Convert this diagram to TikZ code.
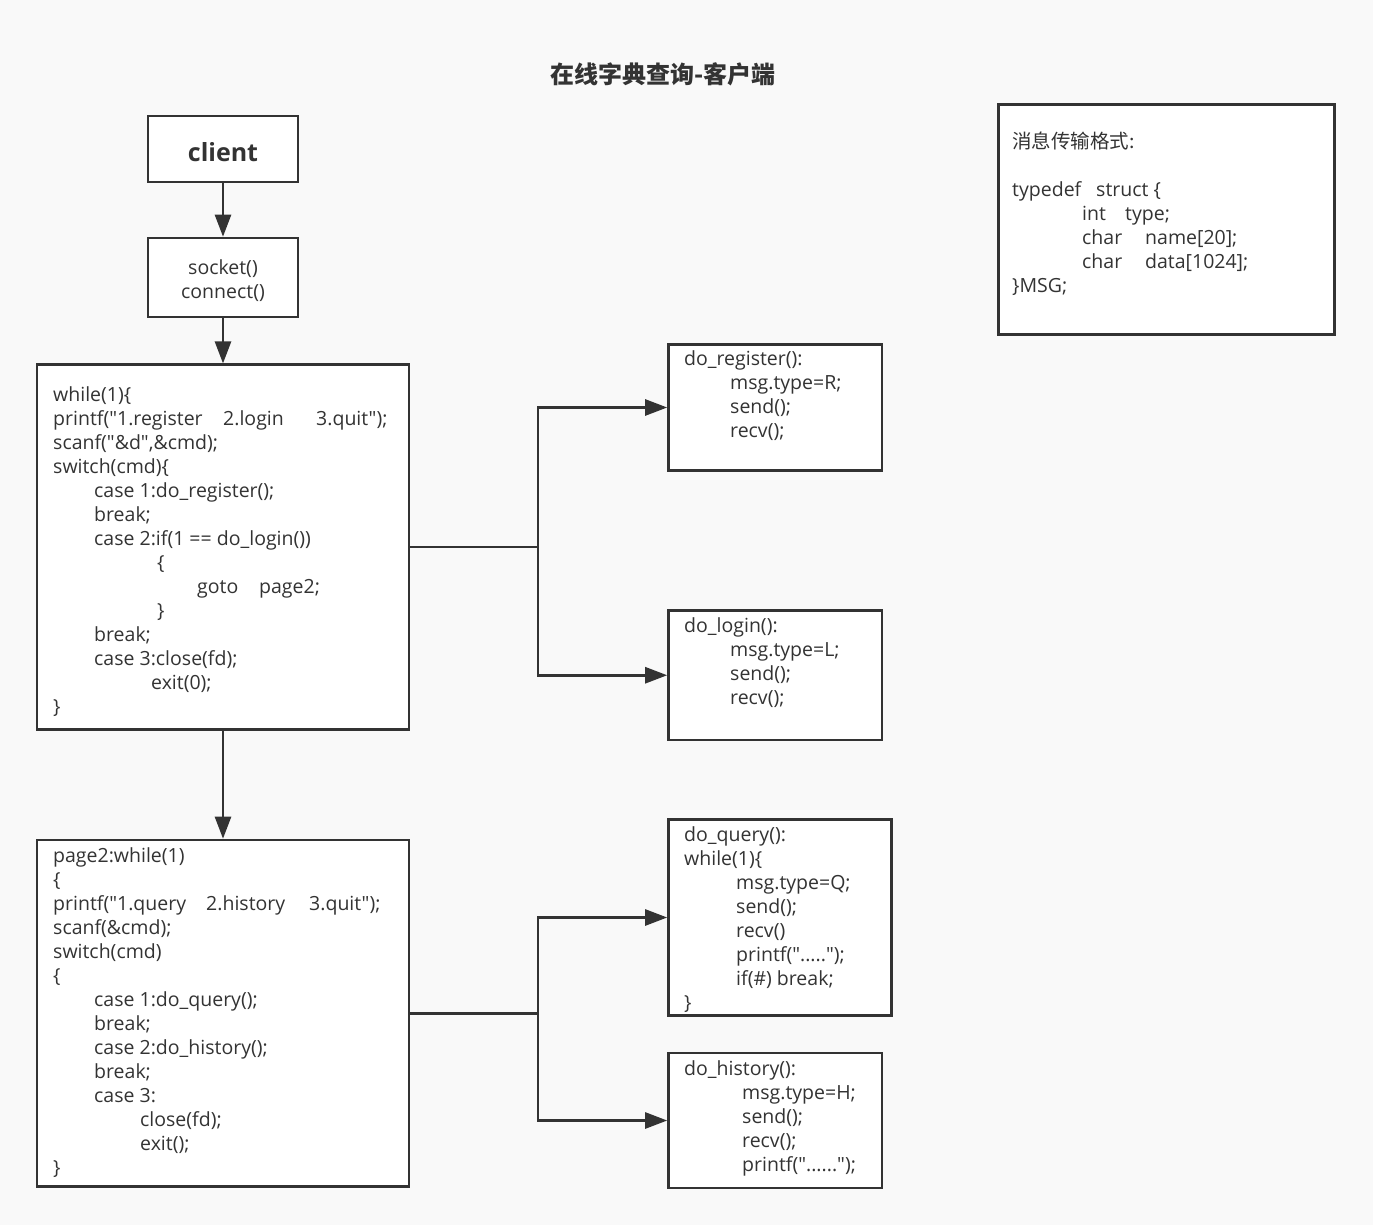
\documentclass[tikz,border=0pt]{standalone}
\usepackage{fontspec}
\setmainfont{Open Sans}[Ligatures=TeXOff]
\newfontfamily\cjk{Noto Sans CJK SC}
\usetikzlibrary{arrows.meta}
\definecolor{ink}{HTML}{333333}
\definecolor{bg}{HTML}{F9F9F9}
\newcommand\tx[2]{\rlap{\hspace*{#1pt}#2}}
\newcommand\codefont{\fontsize{19.5}{24}\selectfont}
\begin{document}
\begin{tikzpicture}[x=1pt,y=-1pt,
  every node/.append style={text=ink},
  box/.style={draw=ink,line width=2.6pt,fill=white,rectangle,inner sep=0pt},
  code/.style={anchor=base west,inner sep=0pt,font=\codefont},
  conn/.style={draw=ink,line width=2.6pt},
  arr/.style={conn,-{Triangle[length=22pt,width=16pt]}}]
\useasboundingbox[fill=bg] (0,0) rectangle (1373,1225);

\node[font=\cjk\bfseries\fontsize{24}{30}\selectfont] (title) at (663,74) {在线字典查询-客户端};

\node[box,minimum width=150pt,minimum height=66pt] (client) at (223,149) {};
\node[font=\bfseries\fontsize{25}{30}\selectfont] (clientt) at (223,152) {client};
\node[box,minimum width=150pt,minimum height=79pt] (sock) at (223,277.5) {};
\node[align=center,font=\codefont] (sockt) at (223,280.5) {socket()\\connect()};

\node[box,minimum width=372pt,minimum height=364.5pt] (loop1) at (223,547) {};
\node[code] (loop1t) at (53,401) {\begin{tabular}[t]{@{}l@{}}
while(1)\{\\
\tx{0}{printf("1.register}\tx{170}{2.login}\tx{263}{3.quit");}\\
scanf("\&d",\&cmd);\\
switch(cmd)\{\\
\tx{41}{case 1:do\_register();}\\
\tx{41}{break;}\\
\tx{41}{case 2:if(1 == do\_login())}\\
\tx{104}{\{}\\
\tx{144}{goto}\tx{206}{page2;}\\
\tx{104}{\}}\\
\tx{41}{break;}\\
\tx{41}{case 3:close(fd);}\\
\tx{98}{exit(0);}\\
\}
\end{tabular}};

\node[box,minimum width=372pt,minimum height=346.5pt] (loop2) at (223,1013.25) {};
\node[code] (loop2t) at (53,862) {\begin{tabular}[t]{@{}l@{}}
page2:while(1)\\
\{\\
\tx{0}{printf("1.query}\tx{153}{2.history}\tx{256}{3.quit");}\\
scanf(\&cmd);\\
switch(cmd)\\
\{\\
\tx{41}{case 1:do\_query();}\\
\tx{41}{break;}\\
\tx{41}{case 2:do\_history();}\\
\tx{41}{break;}\\
\tx{41}{case 3:}\\
\tx{87}{close(fd);}\\
\tx{87}{exit();}\\
\}
\end{tabular}};

\node[box,minimum width=213.5pt,minimum height=126pt] (reg) at (775.25,407.5) {};
\node[code] (regt) at (684,365) {\begin{tabular}[t]{@{}l@{}}
do\_register():\\
\tx{46}{msg.type=R;}\\
\tx{46}{send();}\\
\tx{46}{recv();}
\end{tabular}};

\node[box,minimum width=213.5pt,minimum height=129.5pt] (login) at (775.25,675.25) {};
\node[code] (logint) at (684,632) {\begin{tabular}[t]{@{}l@{}}
do\_login():\\
\tx{46}{msg.type=L;}\\
\tx{46}{send();}\\
\tx{46}{recv();}
\end{tabular}};

\node[box,minimum width=223pt,minimum height=196pt] (query) at (780,917.5) {};
\node[code] (queryt) at (684,841) {\begin{tabular}[t]{@{}l@{}}
do\_query():\\
while(1)\{\\
\tx{52}{msg.type=Q;}\\
\tx{52}{send();}\\
\tx{52}{recv()}\\
\tx{52}{printf(".....");}\\
\tx{52}{if(\#) break;}\\
\}
\end{tabular}};

\node[box,minimum width=213.5pt,minimum height=135pt] (hist) at (775.25,1120.5) {};
\node[code] (histt) at (684,1075) {\begin{tabular}[t]{@{}l@{}}
do\_history():\\
\tx{58}{msg.type=H;}\\
\tx{58}{send();}\\
\tx{58}{recv();}\\
\tx{58}{printf("......");}
\end{tabular}};

\node[box,minimum width=336pt,minimum height=230pt] (msg) at (1166.5,219.5) {};
\node[code] (msgt) at (1012,149) {\begin{tabular}[t]{@{}l@{}}
{\cjk 消息传输格式:}\\
\\
\tx{0}{typedef}\tx{84}{struct \{}\\
\tx{70}{int}\tx{113}{type;}\\
\tx{70}{char}\tx{133}{name[20];}\\
\tx{70}{char}\tx{133}{data[1024];}\\
\}MSG;
\end{tabular}};

\coordinate (j1) at (538,547);
\coordinate (j2) at (538,1013.25);

\draw[arr] (client.south) -- (sock.north);
\draw[arr] (sock.south) -- (loop1.north);
\draw[arr] (loop1.south) -- (loop2.north);
\draw[conn] (loop1.east) -- (j1);
\draw[arr] (j1) |- (reg.west);
\draw[arr] (j1) |- (login.west);
\draw[conn] (loop2.east) -- (j2);
\draw[arr] (j2) |- (query.west);
\draw[arr] (j2) |- (hist.west);
\end{tikzpicture}
\end{document}
